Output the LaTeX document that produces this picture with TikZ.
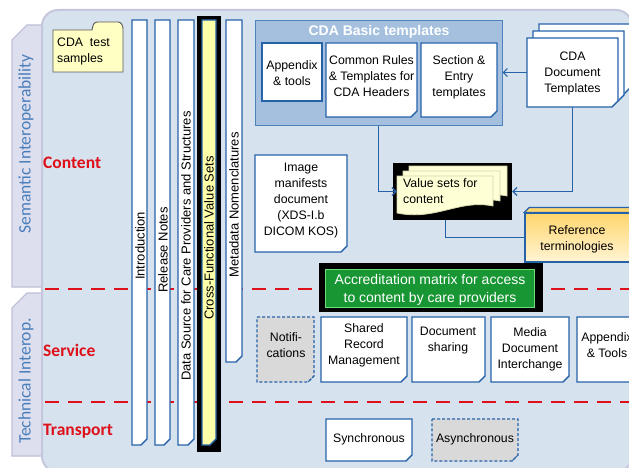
\documentclass[tikz,border=0pt]{standalone}
\usepackage{fontspec}
\setmainfont{Liberation Sans}
\newfontfamily\calib{Carlito}
\usetikzlibrary{arrows.meta}
\definecolor{panelfill}{RGB}{214,226,238}
\definecolor{paneldraw}{RGB}{198,198,220}
\definecolor{tabfill}{RGB}{221,223,238}
\definecolor{tabdraw}{RGB}{190,193,216}
\definecolor{tabtext}{RGB}{74,126,187}
\definecolor{bblue}{RGB}{38,98,168}
\definecolor{grpfill}{RGB}{164,192,222}
\definecolor{grpdraw}{RGB}{79,129,189}
\definecolor{lblred}{RGB}{222,16,26}
\definecolor{folderyel}{RGB}{255,255,196}
\definecolor{baryel}{RGB}{255,255,170}
\definecolor{vsyel}{RGB}{255,255,214}
\definecolor{vsedge}{RGB}{215,215,175}
\definecolor{greybox}{RGB}{217,217,217}
\definecolor{accgreen}{RGB}{24,150,52}
\definecolor{reftop}{RGB}{255,214,110}
\definecolor{refbot}{RGB}{255,244,212}
\newcommand\DocPage[7]{%
  \node[inner sep=0pt, outer sep=0pt, minimum width={#4-#2}, minimum height={#5-#3}] (#1) at ({(#2+#4)/2},{(#3+#5)/2}) {};
  \filldraw[fill=#6, draw=bblue, line width=1.3pt, line join=miter, #7]
    (#1.north west) -- (#1.north east) -- ([yshift=6pt]#1.south east)
    -- ([xshift=-6pt]#1.south east) -- (#1.south west) -- cycle;
  \filldraw[fill=gray!35, draw=bblue, line width=0.9pt, #7]
    ([yshift=6pt]#1.south east) .. controls ([xshift=-3.5pt,yshift=3.5pt]#1.south east) .. ([xshift=-6pt]#1.south east) -- cycle;
}
\begin{document}
\begin{tikzpicture}[x=1pt,y=-1pt,
  bx/.style={font=\fontsize{12.3}{16}\selectfont, align=center, inner sep=0pt},
  bartxt/.style={font=\fontsize{13}{14}\selectfont, rotate=90, inner sep=0pt},
  sidelbl/.style={font=\calib\bfseries\fontsize{17.5}{20}\selectfont, text=lblred, anchor=west, inner sep=0pt},
  tabtxt/.style={font=\calib\fontsize{17.5}{20}\selectfont, text=tabtext, rotate=90, inner sep=0pt},
  conn/.style={draw=bblue, line width=1.2pt, -{Straight Barb[length=4pt,width=8pt]}},
  plainconn/.style={draw=bblue, line width=1.2pt},
  reddash/.style={draw=lblred, line width=2.6pt, dash pattern=on 14pt off 9pt}
]
\useasboundingbox (0,0) rectangle (629,468);
\clip (0,0) rectangle (629,468);
\fill[white] (0,0) rectangle (629,468);
% side tabs
\filldraw[fill=tabfill, draw=tabdraw, line width=1.2pt] (42,25) -- (42,287) -- (12,287) -- (12,40) -- (27,25) -- cycle;
\node[tabtxt] (tabSem) at (26,144) {Semantic Interoperability};
\filldraw[fill=tabfill, draw=tabdraw, line width=1.2pt] (42,293) -- (42,456) -- (12,456) -- (12,308) -- (27,293) -- cycle;
\node[tabtxt] (tabTech) at (26,381) {Technical Interop.};
% main panel
\filldraw[fill=panelfill, draw=paneldraw, line width=2pt, rounded corners=16pt] (42,10) rectangle (632,472);
% red dashed separators
\coordinate (d1a) at (45,289); \coordinate (d1b) at (640,289);
\coordinate (d2a) at (45,402); \coordinate (d2b) at (640,402);
\draw[reddash] (d1a) -- (d1b);
\draw[reddash] (d2a) -- (d2b);
% layer labels
\node[sidelbl] (lContent) at (43,163) {Content};
\node[sidelbl] (lService) at (43,350) {Service};
\node[sidelbl] (lTransport) at (43,431) {Transport};
% CDA test samples folder
\filldraw[fill=folderyel, draw=black!65, line width=0.9pt] (53,30) -- (92,30) .. controls (93,24) and (94,22) .. (98,22) -- (118,22) .. controls (121,22) and (123,25) .. (123,29) -- (123,72) -- (53,72) -- cycle;
\node[bx, align=left, anchor=west] (tSamples) at (57,51) {CDA\ \ test\\samples};
% vertical bars
\DocPage{bIntro}{132}{20}{147}{445}{white}{}
\node[bartxt] (tIntro) at (140,246) {Introduction};
\DocPage{bRel}{155}{20}{170}{445}{white}{}
\node[bartxt] (tRel) at (163,250) {Release Notes};
\DocPage{bData}{178}{20}{194}{445}{white}{}
\node[bartxt] (tData) at (186,246) {Data Source for Care Providers and Structures};
\node[fill=black, inner sep=0pt, minimum width=24pt, minimum height=436pt] (cfBlack) at (209,234) {};
\DocPage{bCross}{202}{20}{216}{445}{baryel}{}
\node[bartxt] (tCross) at (209,238) {Cross-Functional Value Sets};
\DocPage{bMeta}{226}{20}{242}{362}{white}{}
\node[bartxt] (tMeta) at (234,205) {Metadata Nomenclatures};
% CDA basic templates group
\node[fill=grpfill, draw=grpdraw, line width=1pt, inner sep=0pt, minimum width=247pt, minimum height=105pt] (grp) at (378.5,73.5) {};
\node[font=\bfseries\fontsize{14}{16}\selectfont, text=white, inner sep=0pt] (grpTitle) at (379,32) {CDA Basic templates};
\node[fill=white, draw=bblue, line width=1.2pt, inner sep=0pt, minimum width=60pt, minimum height=58pt] (appx) at (292,72) {};
\node[bx] (appxT) at (292,73) {Appendix\\\& tools};
\DocPage{common}{326}{43}{417}{117}{white}{}
\node[bx] (commonT) at (371.5,76) {Common Rules\\\& Templates for\\CDA Headers};
\DocPage{sect}{421}{43}{497}{117}{white}{}
\node[bx] (sectT) at (459,77) {Section \&\\Entry\\templates};
% CDA Document Templates stack
\DocPage{cdaBack}{539}{24}{630}{94}{white}{}
\DocPage{cdaMid}{533}{31}{624}{101}{white}{}
\DocPage{cdaDoc}{527}{38}{618}{107}{white}{}
\node[bx] (cdaDocT) at (572.5,73) {CDA\\Document\\Templates};
% Value sets for content
\node[fill=black, inner sep=0pt, minimum width=119pt, minimum height=57pt] (vs) at (452.5,191.5) {};
\filldraw[fill=vsyel, draw=vsedge, line width=0.8pt] (409,166) -- (507,166) -- (507,196) .. controls (473,189) and (449,210) .. (409,203) -- cycle;
\filldraw[fill=vsyel, draw=vsedge, line width=0.8pt] (403,171) -- (500,171) -- (500,201) .. controls (466,194) and (442,215) .. (403,208) -- cycle;
\filldraw[fill=vsyel, draw=vsedge, line width=0.8pt] (397,176) -- (493,176) -- (493,206) .. controls (459,199) and (436,221) .. (397,213) -- cycle;
\node[bx, align=left, anchor=west] (vsT) at (403,191) {Value sets for\\content};
% Reference terminologies
\node[inner sep=0pt, minimum width=115pt, minimum height=49pt, top color=reftop, bottom color=refbot, draw=bblue, line width=1.2pt] (ref) at (582.5,237.5) {};
\filldraw[fill=reftop, draw=bblue, line width=1.2pt] (ref.north west) -- ++(5,-5) -- ++(120,0) -- (ref.north east) -- cycle;
\node[bx] (refT) at (577,239) {Reference\\terminologies};
% connectors
\draw[conn] (cdaDoc.west) -- (cdaDoc.west -| grp.east);
\draw[conn, shorten >=-4pt] (grp.south) |- (vs.west);
\draw[conn] (cdaDoc.south) |- (vs.east);
\draw[plainconn] ([xshift=-7pt]vs.south) |- (ref.west);
% Image manifests
\DocPage{img}{255}{155}{347}{252}{white}{}
\node[bx] (imgT) at (301,201) {Image\\manifests\\document\\(XDS-I.b\\DICOM KOS)};
% Accreditation matrix
\node[fill=black, inner sep=0pt, minimum width=224pt, minimum height=49pt] (accBlack) at (431,287.5) {};
\node[fill=accgreen, draw=green!45!accgreen!60!white, line width=0.6pt, inner sep=0pt, minimum width=209pt, minimum height=38pt] (acc) at (429.5,288) {};
\node[font=\fontsize{14}{18}\selectfont, text=white, align=center, inner sep=0pt] (accT) at (430,290) {Accreditation matrix for access\\to content by care providers};
% Service row
\DocPage{notif}{257}{317}{314}{382}{greybox}{dash pattern=on 3pt off 2pt}
\node[bx] (notifT) at (286,345) {Notifi-\\cations};
\DocPage{srm}{321}{317}{407}{382}{white}{}
\node[bx] (srmT) at (364,345.5) {Shared\\Record\\Management};
\DocPage{docsh}{412}{317}{485}{382}{white}{}
\node[bx] (docshT) at (448,341) {Document\\sharing};
\DocPage{media}{491}{317}{569}{382}{white}{}
\node[bx] (mediaT) at (530,349) {Media\\Document\\Interchange};
\DocPage{appT}{577}{317}{640}{382}{white}{}
\node[bx] (appTT) at (607,345.5) {Appendix\\\& Tools};
% Transport row
\DocPage{sync}{326}{419}{412}{461}{white}{}
\node[bx] (syncT) at (369,439) {Synchronous};
\DocPage{async}{432}{419}{518}{461}{greybox}{dash pattern=on 3pt off 2pt}
\node[bx] (asyncT) at (475,439) {Asynchronous};
\end{tikzpicture}
\end{document}
